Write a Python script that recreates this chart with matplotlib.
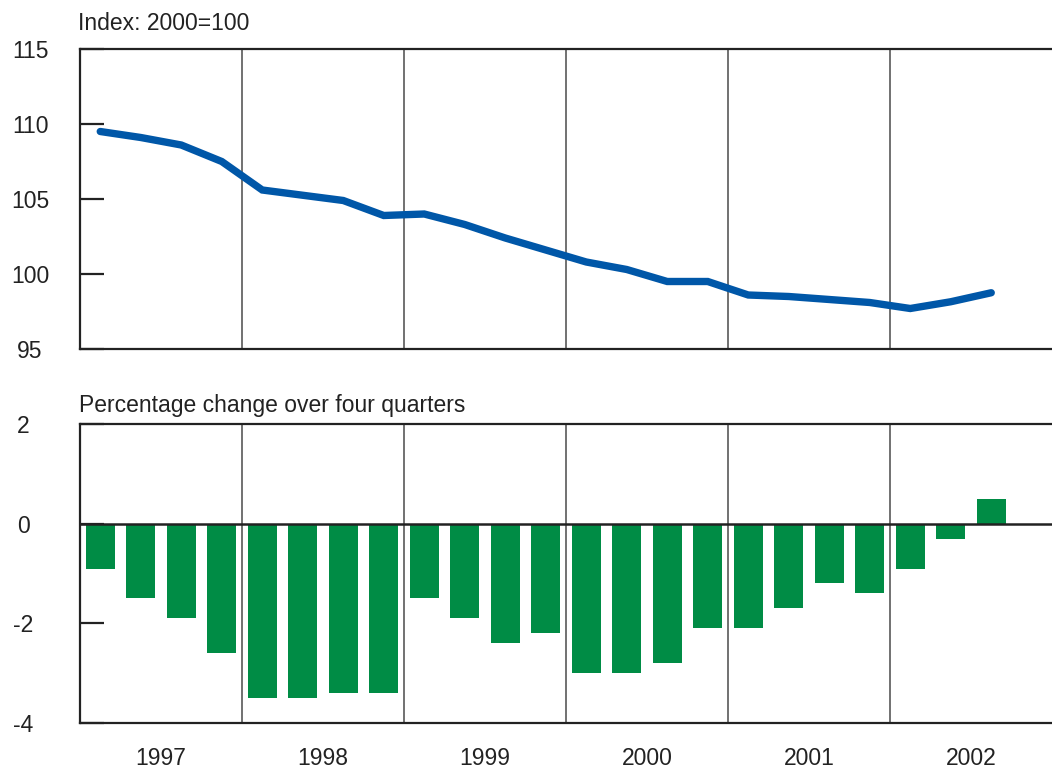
import matplotlib
matplotlib.use("Agg")
import matplotlib.pyplot as plt

# ── Data ──────────────────────────────────────────────────────────────────────
years = ["1997", "1998", "1999", "2000", "2001", "2002"]

# quarterly index, 1997Q1 .. 2002Q3 (2000=100)
index_values = [109.5, 109.1, 108.6, 107.5,
                105.6, 105.25, 104.9, 103.9,
                104.0, 103.3, 102.4, 101.6,
                100.8, 100.3, 99.5, 99.5,
                98.6, 98.5, 98.3, 98.1,
                97.7, 98.15, 98.75]

# percentage change over four quarters
pct_change = [-0.9, -1.5, -1.9, -2.6,
              -3.5, -3.5, -3.4, -3.4,
              -1.5, -1.9, -2.4, -2.2,
              -3.0, -3.0, -2.8, -2.1,
              -2.1, -1.7, -1.2, -1.4,
              -0.9, -0.3, 0.5]

top_ticks = [95, 100, 105, 110, 115]
bottom_ticks = [-4, -2, 0, 2]

# ── Style ─────────────────────────────────────────────────────────────────────
LINE_C = "#0057A8"
BAR_C = "#008C45"
DARK = "#222222"
GRID_C = "#666666"
FS = 16.5
plt.rcParams["font.family"] = ["Liberation Sans", "DejaVu Sans"]
plt.rcParams["text.color"] = DARK

x = [i + 0.5 for i in range(len(index_values))]
n_q = 4 * len(years)

fig = plt.figure(figsize=(10.52, 7.69), dpi=100, facecolor="white")
ax1 = fig.add_axes([80 / 1052, 1 - 349 / 769, 1 - 80 / 1052, 300 / 769])
ax2 = fig.add_axes([80 / 1052, 1 - 723 / 769, 1 - 80 / 1052, 299 / 769])


def style_axis(ax, ticks, pad):
    ax.set_xlim(0, n_q)
    ax.set_ylim(ticks[0], ticks[-1])
    ax.spines["right"].set_visible(False)
    for s in ("left", "top", "bottom"):
        ax.spines[s].set_color(DARK)
        ax.spines[s].set_linewidth(1.6)
    ax.set_yticks(ticks)
    ax.set_yticklabels([str(t) for t in ticks], ha="center")
    ax.tick_params(axis="y", direction="in", length=17, width=1.6,
                   color=DARK, labelsize=FS, pad=pad, labelcolor=DARK)
    for yr in range(1, len(years)):
        ax.axvline(4 * yr, color=GRID_C, lw=1.3, zorder=1)


# ── Top: index line ──────────────────────────────────────────────────────────
style_axis(ax1, top_ticks, 36)
ax1.plot(x, index_values, color=LINE_C, lw=5.3, solid_capstyle="round",
         solid_joinstyle="miter", zorder=3)
ax1.set_xticks([])

# ── Bottom: four-quarter change bars ─────────────────────────────────────────
style_axis(ax2, bottom_ticks, 41)
ax2.bar(x, pct_change, width=0.72, color=BAR_C, zorder=2)
ax2.axhline(0, color=DARK, lw=1.8, zorder=3)
ax2.set_xticks([4 * i + 2 for i in range(len(years))])
ax2.set_xticklabels(years)
ax2.tick_params(axis="x", length=0, labelsize=FS, pad=17, labelcolor=DARK)

fig.text(78 / 1052, 1 - 24 / 769, "Index: 2000=100", fontsize=FS,
         ha="left", va="center")
fig.text(79 / 1052, 1 - 405 / 769, "Percentage change over four quarters",
         fontsize=FS, ha="left", va="center")

fig.savefig("out.png", dpi=100, facecolor="white")
